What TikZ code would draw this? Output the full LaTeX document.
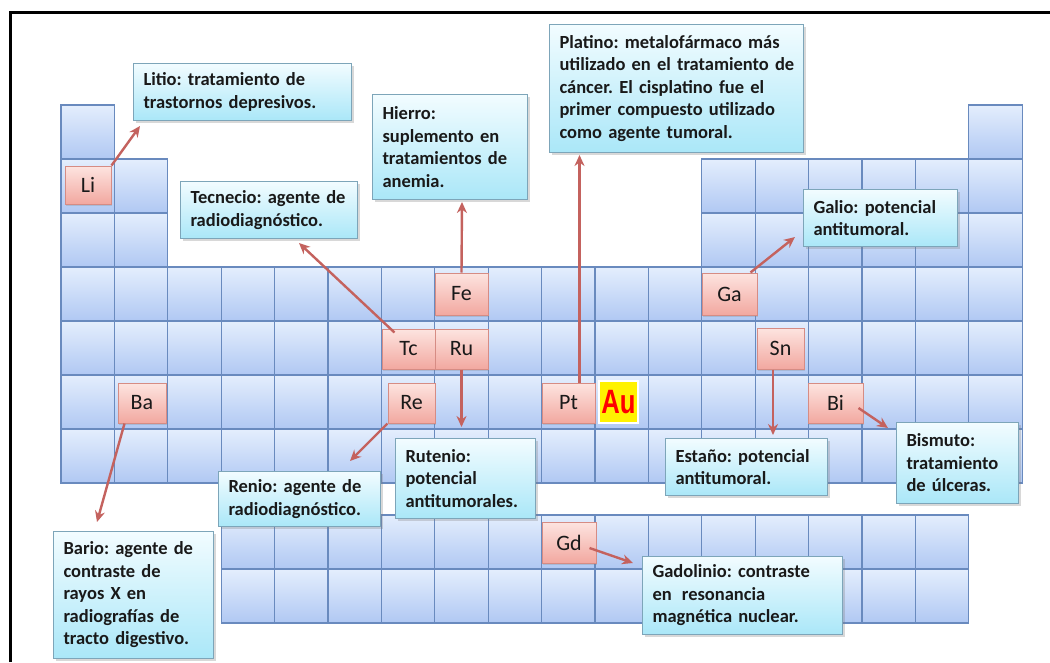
\documentclass[tikz,border=0pt]{standalone}
\usepackage{fontspec}
\setmainfont{Carlito}
\newfontfamily\arialfont{Liberation Sans}
\usetikzlibrary{shadows,arrows.meta,calc}
\definecolor{celltop}{RGB}{228,238,253}
\definecolor{cellbot}{RGB}{176,200,243}
\definecolor{cellline}{RGB}{105,138,190}
\definecolor{pinktop}{RGB}{253,228,224}
\definecolor{pinkbot}{RGB}{242,168,160}
\definecolor{pinkline}{RGB}{214,140,132}
\definecolor{infotop}{RGB}{242,252,255}
\definecolor{infobot}{RGB}{170,231,248}
\definecolor{infoline}{RGB}{125,165,185}
\definecolor{arrowcol}{RGB}{196,98,94}
\definecolor{txt}{RGB}{25,25,25}
\frenchspacing
\begin{document}
\begin{tikzpicture}[x=1pt,y=-1pt,
 cell/.style={draw=cellline,line width=1.2pt,top color=celltop,bottom color=cellbot},
 elem/.style={draw=pinkline,line width=1pt,top color=pinktop,bottom color=pinkbot,inner sep=0pt,
   font=\fontsize{22}{22}\selectfont,text=txt,
   drop shadow={shadow xshift=1pt,shadow yshift=-1.5pt,opacity=0.25}},
 info/.style={draw=infoline,line width=1pt,top color=infotop,bottom color=infobot,anchor=north west,
   inner xsep=10pt,inner ysep=0pt,align=left,font=\fontsize{18.5}{22.5}\selectfont\bfseries,text=txt,
   drop shadow={shadow xshift=2pt,shadow yshift=-2pt,opacity=0.3}},
 arr/.style={draw=arrowcol,line width=2.4pt,-{Stealth[length=11pt,width=10pt]}}]
\useasboundingbox (0,0) rectangle (1050,662);
\fill[white] (0,0) rectangle (1050,662);
% frame
\draw[line width=3pt] (10,662) -- (10,12) -- (1050,12);
% periodic table cells
\foreach \c in {1,18} \path[cell] ({61+(\c-1)*53.4},105) rectangle +(53.4,54);
\foreach \r in {2,3} \foreach \c in {1,2,13,14,15,16,17,18}
  \path[cell] ({61+(\c-1)*53.4},{105+(\r-1)*54}) rectangle +(53.4,54);
\foreach \r in {4,5,6,7} \foreach \c in {1,...,18}
  \path[cell] ({61+(\c-1)*53.4},{105+(\r-1)*54}) rectangle +(53.4,54);
\foreach \r in {0,1} \foreach \c in {4,...,17}
  \path[cell] ({61+(\c-1)*53.4},{515+\r*54}) rectangle +(53.4,54);
% highlighted elements
\node[elem,minimum width=46pt,minimum height=38pt] (Li) at (88,185) {Li};
\node[elem,minimum width=48pt,minimum height=40pt] (Ba) at (142,403) {Ba};
\node[elem,minimum width=53pt,minimum height=42pt] (Fe) at (461.5,294) {Fe};
\node[elem,minimum width=53pt,minimum height=40pt] (Tc) at (408.5,349) {Tc};
\node[elem,minimum width=53pt,minimum height=40pt] (Ru) at (461.5,349) {Ru};
\node[elem,minimum width=47pt,minimum height=40pt] (Re) at (411.5,403) {Re};
\node[elem,minimum width=53pt,minimum height=40pt] (Pt) at (568.5,403) {Pt};
\node[elem,minimum width=55pt,minimum height=42pt] (Ga) at (729.5,294) {Ga};
\node[elem,minimum width=47pt,minimum height=41pt] (Sn) at (780.5,348.5) {Sn};
\node[elem,minimum width=55pt,minimum height=40pt] (Bi) at (835.5,403) {Bi};
\node[elem,minimum width=54pt,minimum height=41pt] (Gd) at (569,542.5) {Gd};
\node[fill=yellow,draw=white,line width=2pt,minimum width=39pt,minimum height=42pt,inner sep=0pt,
  text=red,font=\arialfont\bfseries\fontsize{27}{27}\selectfont] (Au) at (618.5,402) {\scalebox{0.95}[1.25]{Au}};
% info boxes
\node[info,minimum width=218pt,minimum height=57pt,text width=198pt] (litio) at (133,63)
  {Litio: tratamiento de\\trastornos depresivos.};
\node[info,minimum width=177pt,minimum height=57pt,text width=157pt] (tecnecio) at (180,181)
  {\mbox{Tecnecio: agente de}\\radiodiagnóstico.};
\node[info,minimum width=155pt,minimum height=105pt,text width=135pt] (hierro) at (372,94)
  {Hierro:\\suplemento en\\tratamientos de\\anemia.};
\node[info,minimum width=254pt,minimum height=128pt,text width=234pt] (platino) at (549,24)
  {\makebox[\linewidth][s]{Platino: metalofármaco más}\\
   \mbox{utilizado en el tratamiento de}\\
   \makebox[\linewidth][s]{cáncer. El cisplatino fue el}\\
   \makebox[\linewidth][s]{primer compuesto utilizado}\\
   como agente tumoral.};
\node[info,minimum width=154pt,minimum height=57pt,text width=134pt] (galio) at (803,189)
  {\makebox[\linewidth][s]{Galio: potencial}\\antitumoral.};
\node[info,minimum width=162pt,minimum height=55pt,text width=142pt] (renio) at (218,471)
  {Renio: agente de\\radiodiagnóstico.};
\node[info,minimum width=140pt,minimum height=80pt,text width=120pt] (rutenio) at (395,438)
  {Rutenio:\\potencial\\antitumorales.};
\node[info,minimum width=162pt,minimum height=57pt,text width=142pt] (estano) at (665,438)
  {Estaño: potencial\\antitumoral.};
\node[info,minimum width=122pt,minimum height=81pt,text width=102pt] (bismuto) at (896,422)
  {Bismuto:\\tratamiento\\de úlceras.};
\node[info,minimum width=160pt,minimum height=127pt,text width=140pt] (bario) at (53,531)
  {Bario: agente de\\contraste de\\rayos X en\\radiografías de\\tracto digestivo.};
\node[info,minimum width=200pt,minimum height=78pt,text width=180pt] (gadolinio) at (642,556)
  {Gadolinio: contraste\\en\hspace{0.55em}resonancia\\magnética nuclear.};
% connectors
\coordinate (ptS) at ($(Pt.north)+(11,0)$);
\coordinate (ruE) at (461.5,427);
\coordinate (reE) at (350,461);
\coordinate (snS) at ($(Sn.south)+(-7.5,0)$);
\coordinate (snE) at (773,435);
\coordinate (baE) at (97,522);
\draw[arr] (Li.north east) -- ($(litio.south west)+(7,5)$);
\draw[arr] ($(Tc.north west)+(13,4)$) -- ($(tecnecio.south)+(30,4)$);
\draw[arr] (Fe.north) -- ($(hierro.south)+(12,2)$);
\draw[arr] (ptS) -- ($(ptS |- platino.south)+(0,2)$);
\draw[arr] ($(Ga.north east)+(-7,0)$) -- ($(galio.south west)+(-8,-10)$);
\draw[arr] (Ru.south) -- (ruE);
\draw[arr] (Re.south west) -- (reE);
\draw[arr] (snS) -- (snE);
\draw[arr] ($(Bi.east)+(-5,5)$) -- ($(bismuto.north west)+(-8,6)$);
\draw[arr] ($(Ba.south west)+(7,0)$) -- (baE);
\draw[arr] ($(Gd.east)+(-7,5.5)$) -- ($(gadolinio.north west)+(-9,7)$);
\end{tikzpicture}
\end{document}
